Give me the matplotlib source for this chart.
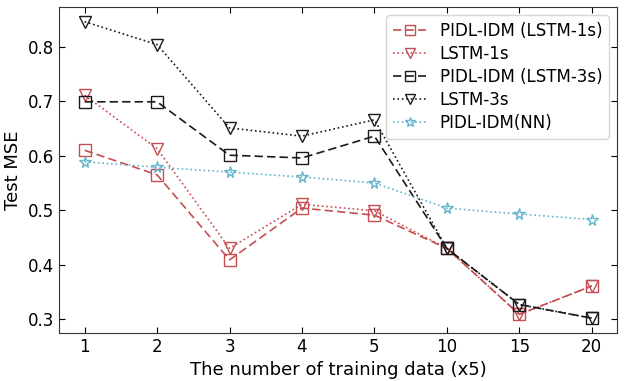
import matplotlib
matplotlib.use('Agg')
import matplotlib.pyplot as plt

plt.rcParams['font.family'] = ['DejaVu Sans']

COL_RED = '#C44E52'
COL_BLACK = '#1a1a1a'
COL_CYAN = '#64B5CD'

n_train = ['1', '2', '3', '4', '5', '10', '15', '20']
pidl_lstm1 = [0.610, 0.565, 0.409, 0.504, 0.491, 0.430, 0.309, 0.361]
lstm1 = [0.711, 0.613, 0.430, 0.511, 0.499, 0.430, 0.309, 0.361]
pidl_lstm3 = [0.699, 0.699, 0.601, 0.596, 0.636, 0.430, 0.327, 0.302]
lstm3 = [0.846, 0.804, 0.651, 0.636, 0.666, 0.430, 0.327, 0.302]
pidl_nn = [0.589, 0.579, 0.570, 0.561, 0.550, 0.504, 0.493, 0.483]

fig, ax = plt.subplots(figsize=(6.24, 3.81), dpi=100)
x = list(range(len(n_train)))

ms = 8.5
ax.plot(x, pidl_lstm1, linestyle=(0, (5, 2.5)), color=COL_RED, marker='s', ms=ms,
        mfc='none', mew=1.0, lw=1.2, label='PIDL-IDM (LSTM-1s)')
ax.plot(x, lstm1, linestyle=':', color=COL_RED, marker='v', ms=ms,
        mfc='none', mew=1.0, lw=1.2, label='LSTM-1s')
ax.plot(x, pidl_lstm3, linestyle=(0, (5, 2.5)), color=COL_BLACK, marker='s', ms=ms,
        mfc='none', mew=1.0, lw=1.2, label='PIDL-IDM (LSTM-3s)')
ax.plot(x, lstm3, linestyle=':', color=COL_BLACK, marker='v', ms=ms,
        mfc='none', mew=1.0, lw=1.2, label='LSTM-3s')
ax.plot(x, pidl_nn, linestyle=':', color=COL_CYAN, marker='*', ms=ms,
        mfc='none', mew=1.0, lw=1.2, label='PIDL-IDM(NN)')

ax.set_xticks(x)
ax.set_xticklabels(n_train)
ax.set_xlabel('The number of training data (x5)', fontsize=13)
ax.set_ylabel('Test MSE', fontsize=13)
ax.tick_params(direction='in', top=True, right=True, labelsize=12, length=4)
for sp in ax.spines.values():
    sp.set_color('#333333')

ax.legend(loc='upper right', fontsize=12, edgecolor='#cccccc', handlelength=2.0,
          borderaxespad=0.5, labelspacing=0.3, markerscale=0.85)

fig.subplots_adjust(left=0.095, right=0.989, top=0.982, bottom=0.126)
plt.savefig('out.png', dpi=100)
